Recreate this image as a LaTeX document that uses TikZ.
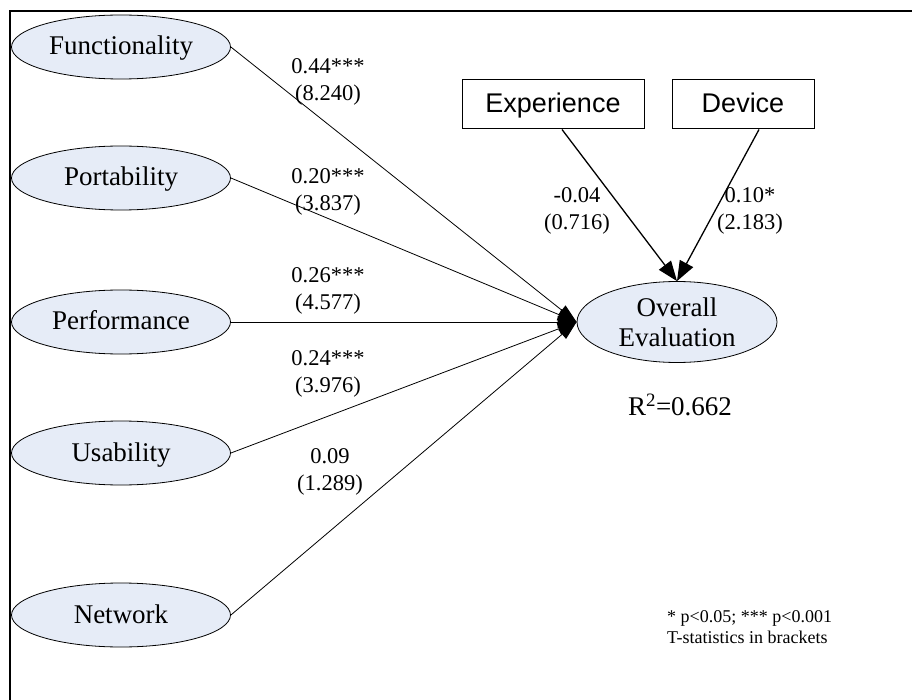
\documentclass[tikz,border=0pt]{standalone}
\usepackage{fontspec}
\setmainfont{Liberation Serif}
\newfontfamily\arialf{Liberation Sans}
\usetikzlibrary{arrows.meta,shapes.geometric}
\definecolor{ellfill}{RGB}{230,236,247}
\begin{document}
\begin{tikzpicture}[x=1pt,y=-1pt,
  ellbase/.style={ellipse,draw,line width=0.8pt,fill=ellfill,inner sep=0pt,
    font=\fontsize{27}{30}\selectfont},
  lat/.style={ellbase,minimum width=219pt,minimum height=64pt,
    text height=18.5pt,text depth=2.5pt},
  obs/.style={rectangle,draw,line width=1pt,inner sep=0pt,minimum height=49pt,
    text height=19.5pt,text depth=2.5pt,
    font=\arialf\fontsize{27}{30}\selectfont},
  pathline/.style={line width=0.8pt,-{Triangle[length=19pt,width=12pt]}},
  modline/.style={line width=1.3pt,-{Triangle[length=20pt,width=15pt]}},
  lbl/.style={align=center,inner sep=0pt,font=\fontsize{22.5}{27}\selectfont},
  note/.style={align=left,inner sep=0pt,font=\fontsize{18}{21}\selectfont}]
\useasboundingbox (0,0) rectangle (912,700);
\draw[line width=2.5pt] (10,700) -- (10,11) -- (912,11);

\node[lat] (fun) at (121,47) {Functionality};
\node[lat] (por) at (121,178) {Portability};
\node[lat] (per) at (121,322) {Performance};
\node[lat] (usa) at (121,453) {Usability};
\node[lat] (net) at (121,615) {Network};
\node[ellbase,align=center,minimum width=200pt,minimum height=81pt] (ov) at (677,322) {Overall\\Evaluation};

\node[obs,minimum width=182pt] (exp) at (553,104.5) {Experience};
\node[obs,minimum width=142pt] (dev) at (743,104.5) {Device};

\draw[pathline] (fun.east) -- (ov.west);
\draw[pathline] (por.east) -- (ov.west);
\draw[pathline] (per.east) -- (ov.west);
\draw[pathline] (usa.east) -- (ov.west);
\draw[pathline] (net.east) -- (ov.west);
\draw[modline] ([xshift=9pt]exp.south) -- (ov.north);
\draw[modline] ([xshift=16pt]dev.south) -- (ov.north);

\node[lbl] (l1) at (328,82) {0.44***\\(8.240)};
\node[lbl] (l2) at (328,192) {0.20***\\(3.837)};
\node[lbl] (l3) at (328,291) {0.26***\\(4.577)};
\node[lbl] (l4) at (328,374) {0.24***\\(3.976)};
\node[lbl] (l5) at (330,472) {0.09\\(1.289)};
\node[lbl] (l6) at (577,211) {-0.04\\(0.716)};
\node[lbl] (l7) at (750,211) {0.10*\\(2.183)};

\node[inner sep=0pt,font=\fontsize{27}{30}\selectfont] (r2) at (680,405) {R\textsuperscript{2}=0.662};
\node[note,anchor=north west] (nt) at (667,610) {* p<0.05; *** p<0.001\\T-statistics in brackets};
\end{tikzpicture}
\end{document}
